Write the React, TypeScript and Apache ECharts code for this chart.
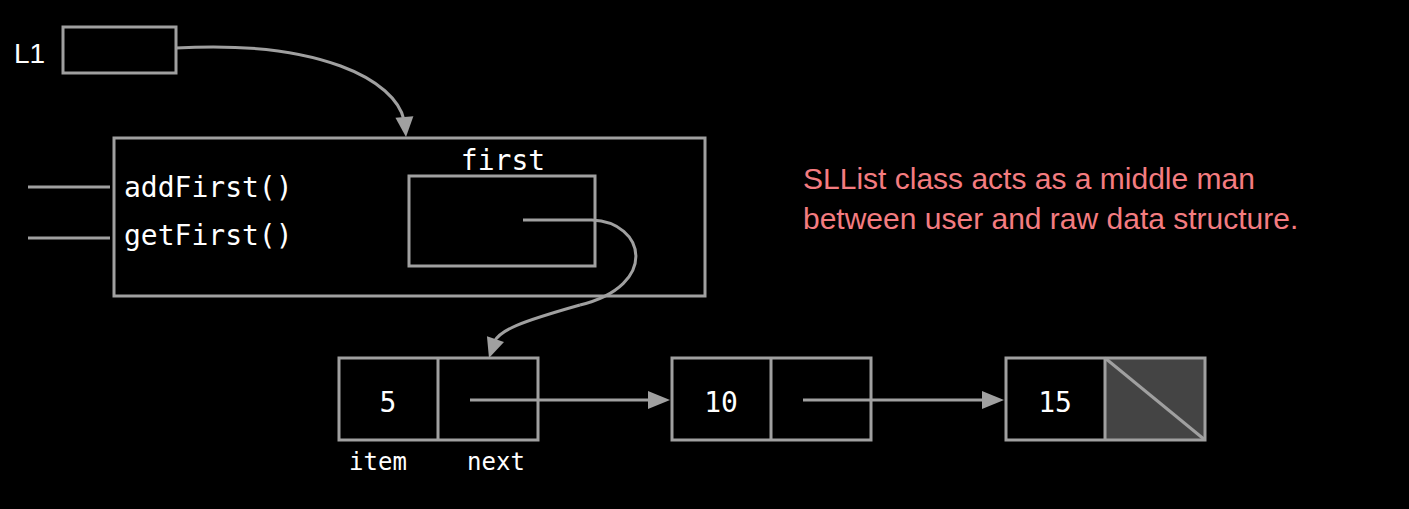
import React, { useEffect, useRef } from "react";
import * as echarts from "echarts";

const nodeValues = ["5", "10", "15"];
const methods = ["addFirst()", "getFirst()"];
const fieldLabels = ["item", "next"];
const note = ["SLList class acts as a middle man", "between user and raw data structure."];
const varName = "L1";
const fieldName = "first";

const GRAY = "#a0a0a0";
const MONO = "DejaVu Sans Mono, monospace";
const SANS = "Liberation Sans, Arial, sans-serif";

function arrowHead(tx: number, ty: number, angle: number, len = 20, half = 9) {
  const c = Math.cos(angle), s = Math.sin(angle);
  const bx = tx - len * c, by = ty - len * s;
  return {
    type: "polygon",
    shape: { points: [[tx, ty], [bx - half * s, by + half * c], [bx + half * s, by - half * c]] },
    style: { fill: GRAY },
  };
}

export default function App() {
  const ref = useRef<HTMLDivElement>(null);
  useEffect(() => {
    const chart = echarts.init(ref.current!, null, { renderer: "svg" });
    const line = { stroke: GRAY, lineWidth: 3, fill: null };
    const g: any[] = [];
    g.push({ type: "text", x: 14, y: 53, style: { text: varName, fill: "#fff", font: `28px ${SANS}`, verticalAlign: "middle" } });
    g.push({ type: "rect", shape: { x: 63, y: 27, width: 113, height: 46 }, style: { ...line } });
    g.push({ type: "bezierCurve", shape: { x1: 176, y1: 48, cpx1: 320, cpy1: 40, cpx2: 395, cpy2: 80, x2: 404, y2: 120 }, style: { ...line } });
    g.push(arrowHead(406, 137, Math.PI / 2 - 0.08, 20, 9));
    g.push({ type: "rect", shape: { x: 114, y: 138, width: 591, height: 158 }, style: { ...line } });
    g.push({ type: "text", x: 503, y: 160, style: { text: fieldName, fill: "#fff", font: `28px ${MONO}`, align: "center", verticalAlign: "middle" } });
    g.push({ type: "rect", shape: { x: 409, y: 176, width: 186, height: 90 }, style: { ...line } });
    methods.forEach((m, i) => {
      const y = [187, 238][i];
      g.push({ type: "line", shape: { x1: 28, y1: y, x2: 110, y2: y }, style: { ...line } });
      g.push({ type: "text", x: 124, y: i === 0 ? 187 : 235, style: { text: m, fill: "#fff", font: `28px ${MONO}`, verticalAlign: "middle" } });
    });
    g.push({ type: "polyline", shape: { points: [[523, 220], [592, 220]] }, style: { ...line } });
    g.push({ type: "bezierCurve", shape: { x1: 592, y1: 220, cpx1: 645, cpy1: 222, cpx2: 660, cpy2: 285, x2: 580, y2: 305 }, style: { ...line } });
    g.push({ type: "bezierCurve", shape: { x1: 580, y1: 305, cpx1: 520, cpy1: 322, cpx2: 500, cpy2: 330, x2: 494, y2: 342 }, style: { ...line } });
    g.push(arrowHead(489, 358, 1.9, 20, 9));

    const nodeX = [339, 672, 1006];
    nodeValues.forEach((v, i) => {
      const x = nodeX[i], y = 358, w = 199, h = 82, half = 99;
      if (i === nodeValues.length - 1) {
        g.push({ type: "rect", shape: { x: x + half, y, width: w - half, height: h }, style: { fill: "#444" } });
        g.push({ type: "line", shape: { x1: x + half, y1: y, x2: x + w, y2: y + h }, style: { ...line } });
      }
      g.push({ type: "rect", shape: { x, y, width: w, height: h }, style: { ...line } });
      g.push({ type: "line", shape: { x1: x + half, y1: y, x2: x + half, y2: y + h }, style: { ...line } });
      g.push({ type: "text", x: x + 49, y: 402, style: { text: v, fill: "#fff", font: `28px ${MONO}`, align: "center", verticalAlign: "middle" } });
      if (i < nodeValues.length - 1) {
        const sx = x + half + 32, ex = nodeX[i + 1] - 2;
        g.push({ type: "line", shape: { x1: sx, y1: 400, x2: ex - 18, y2: 400 }, style: { ...line } });
        g.push(arrowHead(ex, 400, 0, 22, 9));
      }
    });
    fieldLabels.forEach((t, i) => {
      g.push({ type: "text", x: [378, 496][i], y: 462, style: { text: t, fill: "#fff", font: `24px ${MONO}`, align: "center", verticalAlign: "middle" } });
    });
    note.forEach((t, i) => {
      g.push({ type: "text", x: 803, y: [178, 218][i], style: { text: t, fill: "#f47c80", font: `30px ${SANS}`, verticalAlign: "middle" } });
    });

    chart.setOption({ animation: false, backgroundColor: "#000", graphic: g });
    return () => chart.dispose();
  }, []);
  return <div ref={ref} style={{ position: "fixed", left: 0, top: 0, width: 1409, height: 509, background: "#000" }} />;
}
